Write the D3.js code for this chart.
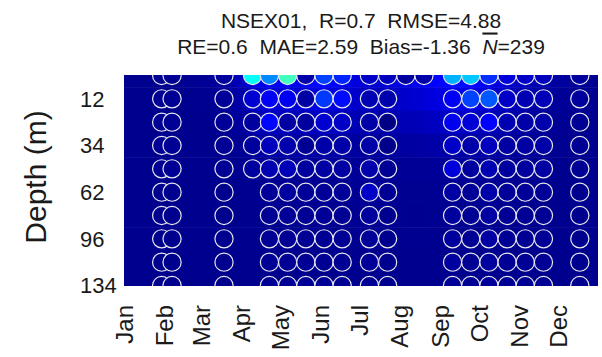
<!DOCTYPE html>
<html><head><meta charset="utf-8">
<script src="https://cdn.jsdelivr.net/npm/d3@7"></script>
<style>
body{margin:0;background:#fff}
text{font-family:"Liberation Sans",Arial,sans-serif;fill:#1a1a1a}
</style>
</head><body>
<svg id="chart" width="602" height="357"></svg>
<script>
// ---------------- data ----------------
const depths = [2, 12, 22, 34, 47, 62, 78, 96, 114, 134];
const depthTickLabels = [12, 34, 62, 96, 134];
const monthLabels = ["Jan","Feb","Mar","Apr","May","Jun","Jul","Aug","Sep","Oct","Nov","Dec"];
const titleLine1 = "NSEX01,  R=0.7  RMSE=4.88";
const titleLine2 = "RE=0.6  MAE=2.59  Bias=-1.36  ";
const nBar = "239";

// observation dates and values (top → bottom, one array per date)
const obsDates = ["2001-01-30","2001-02-07","2001-03-19","2001-04-10","2001-04-23","2001-05-07",
  "2001-05-21","2001-06-04","2001-06-18","2001-07-09","2001-07-23","2001-08-06","2001-08-20",
  "2001-09-11","2001-09-25","2001-10-09","2001-10-23","2001-11-06","2001-11-20","2001-12-18"];
const obsValues = [
  [0.2,0.2,0.2,0.2,0.2,0.15,0.15,0.15,0.15,0.15],
  [0.2,0.2,0.2,0.2,0.2,0.15,0.15,0.15,0.15,0.15],
  [0.3,0.25,0.25,0.2,0.2,0.15,0.15,0.15,0.15,0.15],
  [3.8,0.8,0.3,0.3,0.3],
  [2.6,1.15,1.3,0.6,0.5,0.25,0.2,0.2,0.2,0.2],
  [4.4,1.1,0.35,0.45,0.55,0.3,0.25,0.2,0.2,0.2],
  [0.4,0.35,0.3,0.2,0.3,0.25,0.2,0.2,0.2,0.2],
  [1.9,1.8,0.8,0.4,0.35,0.25,0.25,0.2,0.2,0.2],
  [1.6,1.35,0.7,0.4,0.35,0.25,0.2,0.2,0.2,0.2],
  [0.7,0.5,0.4,0.4,0.45,0.7,0.3,0.25,0.25,0.2],
  [0.6,0.45,0.05,0.1,0.2,0.2,0.15,0.15,0.15,0.15],
  [0.3],
  [0.4],
  [3.0,1.15,1.1,0.7,0.9,0.35,0.3,0.3,0.3,0.25],
  [3.2,1.9,0.85,0.4,0.3,0.25,0.2,0.2,0.2,0.2],
  [1.7,2.1,1.25,0.6,0.5,0.4,0.35,0.35,0.3,0.25],
  [0.9,0.7,0.5,0.35,0.3,0.25,0.2,0.2,0.2,0.2],
  [0.7,0.5,0.4,0.35,0.3,0.25,0.2,0.2,0.2,0.2],
  [0.6,0.55,0.45,0.4,0.35,0.25,0.2,0.2,0.2,0.2],
  [0.3,0.3,0.2,0.2,0.2,0.15,0.15,0.15,0.15,0.15]
];

// model field (background): dates and one row per depth
const modelDates = ["2001-01-01","2001-01-16","2001-01-31","2001-02-15","2001-03-02","2001-03-17",
  "2001-04-01","2001-04-16","2001-05-01","2001-05-16","2001-05-31","2001-06-15","2001-06-30",
  "2001-07-15","2001-07-30","2001-08-14","2001-08-29","2001-09-13","2001-09-28","2001-10-13",
  "2001-10-28","2001-11-12","2001-11-27","2001-12-12","2002-01-01"];
const modelValues = [
  [0.15,0.15,0.15,0.18,0.2,0.3,0.6,1.1,1.2,1.1,1.3,1.2,0.9,0.8,0.95,1.1,1.25,1.4,1.3,1.0,0.7,0.5,0.35,0.25,0.15],
  [0.15,0.15,0.15,0.15,0.17,0.22,0.4,0.8,0.9,0.85,1.0,0.9,0.7,0.6,0.7,0.8,0.95,1.05,1.0,0.8,0.55,0.4,0.28,0.2,0.15],
  [0.15,0.15,0.15,0.15,0.15,0.18,0.3,0.55,0.6,0.55,0.65,0.6,0.5,0.45,0.5,0.55,0.65,0.7,0.65,0.55,0.4,0.3,0.22,0.18,0.15],
  [0.15,0.15,0.15,0.15,0.15,0.15,0.2,0.35,0.38,0.35,0.4,0.38,0.32,0.3,0.32,0.35,0.4,0.42,0.4,0.35,0.28,0.22,0.18,0.16,0.15],
  [0.15,0.15,0.15,0.15,0.15,0.15,0.17,0.22,0.25,0.24,0.26,0.25,0.24,0.25,0.22,0.22,0.25,0.27,0.26,0.24,0.2,0.18,0.16,0.15,0.15],
  [0.15,0.15,0.15,0.15,0.15,0.15,0.15,0.17,0.18,0.18,0.19,0.19,0.2,0.22,0.18,0.17,0.18,0.19,0.19,0.18,0.17,0.16,0.15,0.15,0.15],
  [0.15,0.15,0.15,0.15,0.15,0.15,0.15,0.16,0.17,0.17,0.17,0.17,0.18,0.19,0.17,0.16,0.17,0.17,0.17,0.17,0.16,0.15,0.15,0.15,0.15],
  [0.15,0.15,0.15,0.15,0.15,0.15,0.15,0.15,0.16,0.16,0.16,0.16,0.17,0.17,0.16,0.16,0.16,0.16,0.16,0.16,0.15,0.15,0.15,0.15,0.15],
  [0.15,0.15,0.15,0.15,0.15,0.15,0.15,0.15,0.15,0.15,0.15,0.15,0.16,0.16,0.15,0.15,0.15,0.15,0.15,0.15,0.15,0.15,0.15,0.15,0.15],
  [0.15,0.15,0.15,0.15,0.15,0.15,0.15,0.15,0.15,0.15,0.15,0.15,0.15,0.15,0.15,0.15,0.15,0.15,0.15,0.15,0.15,0.15,0.15,0.15,0.15]
];

// ---------------- drawing ----------------
const svg = d3.select("#chart");
const plot = {left: 124, right: 598, top: 75, bottom: 286};
const parse = d3.utcParse("%Y-%m-%d");

const x = d3.scaleUtc()
  .domain([parse("2001-01-01"), parse("2002-01-01")])
  .range([plot.left, plot.right]);
const y = d3.scalePoint()
  .domain(depths)
  .range([plot.top + 0.5, plot.bottom - 0.5]);

function jet(t) {
  t = Math.max(0, Math.min(1, t));
  const c = v => Math.round(255 * Math.max(0, Math.min(1, 1.5 - Math.abs(v))));
  return `rgb(${c(4*t-3)},${c(4*t-2)},${c(4*t-1)})`;
}
const color = d3.scaleSequential(jet).domain([0, 10]).clamp(true);

const defs = svg.append("defs");
defs.append("clipPath").attr("id","clip").append("rect")
  .attr("x", plot.left).attr("y", plot.top)
  .attr("width", plot.right - plot.left).attr("height", plot.bottom - plot.top);

// background model field — one gradient band per depth
const step = y.step();
const x0 = x.range()[0], x1 = x.range()[1];
depths.forEach((d, i) => {
  const g = defs.append("linearGradient")
    .attr("id", "row" + i)
    .attr("gradientUnits", "userSpaceOnUse")
    .attr("x1", x0).attr("x2", x1).attr("y1", 0).attr("y2", 0);
  modelDates.forEach((md, j) => {
    g.append("stop")
      .attr("offset", (x(parse(md)) - x0) / (x1 - x0))
      .attr("stop-color", color(modelValues[i][j]));
  });
});

const bg = svg.append("g").attr("clip-path", "url(#clip)");
bg.selectAll("rect.band")
  .data(depths)
  .join("rect")
  .attr("class", "band")
  .attr("x", x0)
  .attr("width", x1 - x0)
  .attr("y", d => y(d) - step / 2)
  .attr("height", step + 0.5)
  .attr("fill", (d, i) => `url(#row${i})`);

// observation circles
const obs = [];
obsDates.forEach((od, j) => {
  obsValues[j].forEach((v, k) => obs.push({date: parse(od), depth: depths[k], value: v}));
});
bg.selectAll("circle.obs")
  .data(obs)
  .join("circle")
  .attr("class", "obs")
  .attr("cx", d => x(d.date))
  .attr("cy", d => y(d.depth))
  .attr("r", 9.1)
  .attr("fill", d => color(d.value))
  .attr("stroke", "#e6e6ee")
  .attr("stroke-width", 1.2);

// x axis (month labels)
const monthTicks = d3.utcMonths(parse("2001-01-01"), parse("2002-01-01"));
const xAxis = svg.append("g")
  .attr("transform", `translate(0,${plot.bottom})`)
  .call(d3.axisBottom(x).tickValues(monthTicks)
        .tickSize(0).tickFormat(d => monthLabels[d.getUTCMonth()]));
xAxis.select(".domain").remove();
xAxis.selectAll("text")
  .attr("transform", "rotate(-90)")
  .attr("text-anchor", "end")
  .attr("x", -19)
  .attr("y", 0)
  .attr("dy", "0.36em")
  .style("font-size", "24px")
  .style("fill", "#1a1a1a");

// y axis (depth labels)
svg.append("g").selectAll("text")
  .data(depthTickLabels)
  .join("text")
  .attr("x", 80)
  .attr("y", d => y(d))
  .attr("dy", "0.35em")
  .attr("text-anchor", "start")
  .style("font-size", "22px")
  .text(d => d);

svg.append("text")
  .attr("transform", "translate(46,177) rotate(-90)")
  .attr("text-anchor", "middle")
  .style("font-size", "30px")
  .text("Depth (m)");

// title
const cx = (plot.left + plot.right) / 2;
svg.append("text")
  .attr("x", cx).attr("y", 28)
  .attr("text-anchor", "middle")
  .style("font-size", "21px").style("white-space", "pre")
  .text(titleLine1);
const t2 = svg.append("text")
  .attr("x", cx).attr("y", 53.5)
  .attr("text-anchor", "middle")
  .style("font-size", "21px").style("white-space", "pre");
t2.append("tspan").text(titleLine2);
t2.append("tspan").style("font-style", "italic").style("text-decoration", "overline").text("N");
t2.append("tspan").text("=" + nBar);
</script>
</body></html>
